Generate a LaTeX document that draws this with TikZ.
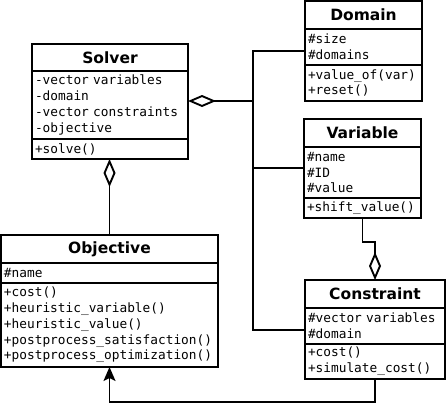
\documentclass[tikz,border=0pt]{standalone}
\usepackage{fontspec}
\setmainfont{DejaVu Sans}
\setmonofont{DejaVu Sans Mono}
\usetikzlibrary{arrows.meta}
\newcommand\umlmono{\ttfamily\fontsize{12.8}{15.8}\selectfont\spaceskip 0.602em\relax}
\tikzset{
 part/.style={draw, line width=1.9pt, outer sep=0pt, inner xsep=3pt, inner ysep=0pt, anchor=north west, align=left, font=\umlmono},
 ttl/.style={part, align=center, font=\bfseries\fontsize{15.5}{18}\selectfont},
 conn/.style={line width=1.9pt},
 aggtip/.style={conn, -{Diamond[fill=white, length=28pt, width=12pt, line width=1.9pt]}},
 gen/.style={conn, -{Stealth[length=14pt, width=12pt, inset=3pt]}},
}
\begin{document}
\begin{tikzpicture}[x=1pt,y=-1pt]
\useasboundingbox (0,0) rectangle (447,404);
% Solver
\node[ttl, text width=150pt, minimum height=27pt] (solverT) at (32,44) {Solver};
\node[part, text width=150pt, minimum height=68pt] (solverA) at (solverT.south west) {-vector variables\\-domain\\-vector constraints\\-objective};
\node[part, text width=150pt, minimum height=20pt] (solverM) at (solverA.south west) {+solve()};
% Domain
\node[ttl, text width=111pt, minimum height=28pt] (domT) at (305,1) {Domain};
\node[part, text width=111pt, minimum height=36pt] (domA) at (domT.south west) {\#size\\\#domains};
\node[part, text width=111pt, minimum height=36pt] (domM) at (domA.south west) {+value\_of(var)\\+reset()};
% Variable
\node[ttl, text width=111pt, minimum height=28pt] (varT) at (304,119) {Variable};
\node[part, text width=111pt, minimum height=51pt] (varA) at (varT.south west) {\#name\\\#ID\\\#value};
\node[part, text width=111pt, minimum height=20pt] (varM) at (varA.south west) {+shift\_value()};
% Objective
\node[ttl, text width=211pt, minimum height=28pt] (objT) at (1,235) {Objective};
\node[part, text width=211pt, minimum height=20pt] (objA) at (objT.south west) {\#name};
\node[part, text width=211pt, minimum height=84pt] (objM) at (objA.south west) {+cost()\\+heuristic\_variable()\\+heuristic\_value()\\+postprocess\_satisfaction()\\+postprocess\_optimization()};
% Constraint
\node[ttl, text width=134pt, minimum height=28pt] (conT) at (305,280) {Constraint};
\node[part, text width=134pt, minimum height=36pt] (conA) at (conT.south west) {\#vector variables\\\#domain};
\node[part, text width=134pt, minimum height=35pt] (conM) at (conA.south west) {+cost()\\+simulate\_cost()};
% connectors
\coordinate (j) at (253,101);
\draw[aggtip] (j) -- (j -| solverA.east);
\draw[conn] ([yshift=-4pt]domA.west) -| (j);
\draw[conn] ([yshift=4.5pt]varA.west) -| (j);
\draw[conn] ([yshift=-4pt]conA.west) -| (j);
\draw[aggtip] (objT.north) -- (objT.north |- solverM.south);
\draw[aggtip] (varM.south) -- ++(0,24) -| (conT.north);
\draw[gen] (conM.south) -- ++(0,23) -| (objM.south);
\end{tikzpicture}
\end{document}
